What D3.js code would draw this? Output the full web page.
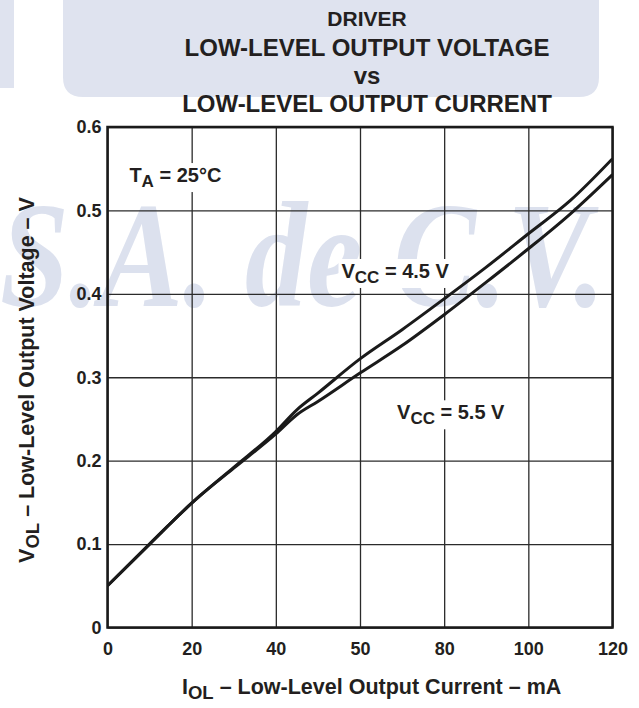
<!DOCTYPE html>
<html>
<head>
<meta charset="utf-8">
<script src="https://cdn.jsdelivr.net/npm/d3@7"></script>
<style>
  body { margin: 0; background: #fff; }
  svg { display: block; font-family: "Liberation Sans", Arial, Helvetica, sans-serif; font-weight: bold; }
</style>
</head>
<body>
<div id="chart"></div>
<script>
// I_OL (mA) sample points
const current = [0, 10, 20, 22, 30, 40, 45, 50, 60, 70, 80, 90, 100, 110, 120];
// V_OL (V) for each supply voltage
const vcc45 = [0.050, 0.100, 0.149, 0.158, 0.192, 0.235, 0.261, 0.281, 0.322, 0.357, 0.394, 0.432, 0.472, 0.512, 0.562];
const vcc55 = [0.050, 0.100, 0.149, 0.158, 0.191, 0.232, 0.255, 0.271, 0.305, 0.338, 0.375, 0.414, 0.454, 0.496, 0.543];

const xTicks = [0, 20, 40, 60, 80, 100, 120];
const xTickLabels = ["0", "20", "40", "50", "80", "100", "120"];   // "50" as printed
const yTicks = [0, 0.1, 0.2, 0.3, 0.4, 0.5, 0.6];
const yTickLabels = ["0", "0.1", "0.2", "0.3", "0.4", "0.5", "0.6"];

const titleLines = ["DRIVER", "LOW-LEVEL OUTPUT VOLTAGE", "vs", "LOW-LEVEL OUTPUT CURRENT"];

const W = 639, H = 708;
const margin = { top: 127, right: 26.5, bottom: 80.5, left: 107.5 };
const width = W - margin.left - margin.right,
      height = H - margin.top - margin.bottom;

const svg = d3.select("#chart").append("svg")
    .attr("width", W)
    .attr("height", H);

// watermark behind everything
const wm = svg.append("g").attr("fill", "#dfe3ef");
wm.append("path")
  .attr("d", "M63,0 H599 V77 Q599,97 579,97 H83 Q63,97 63,77 Z");
wm.append("rect").attr("x", 0).attr("y", 0).attr("width", 14).attr("height", 88);
wm.append("text")
  .attr("x", 0).attr("y", 306)
  .attr("font-family", "'Liberation Serif', 'DejaVu Serif', serif")
  .attr("font-style", "italic")
  .attr("font-weight", "bold")
  .attr("font-size", 150)
  .attr("textLength", 605)
  .attr("lengthAdjust", "spacingAndGlyphs")
  .attr("fill", "#dce1ee")
  .text("S.A. de C.V.");

// title
const titleSizes = [21, 24, 24, 24];
const titleY = [26, 56, 84, 112];
svg.append("g").selectAll("text")
  .data(titleLines)
  .join("text")
  .attr("x", 367)
  .attr("y", (d, i) => titleY[i])
  .attr("text-anchor", "middle")
  .attr("font-size", (d, i) => titleSizes[i])
  .attr("fill", "#231f20")
  .text(d => d);

const g = svg.append("g")
    .attr("transform", `translate(${margin.left},${margin.top})`);

const x = d3.scaleLinear().domain([0, 120]).range([0, width]);
const y = d3.scaleLinear().domain([0, 0.6]).range([height, 0]);

// grid
g.append("g")
  .attr("transform", `translate(0,${height})`)
  .call(d3.axisBottom(x).tickValues(xTicks).tickSize(-height).tickFormat(""))
  .call(a => a.select(".domain").remove())
  .selectAll("line").attr("stroke", "#2b2b2b").attr("stroke-width", 1.3);

g.append("g")
  .call(d3.axisLeft(y).tickValues(yTicks).tickSize(-width).tickFormat(""))
  .call(a => a.select(".domain").remove())
  .selectAll("line").attr("stroke", "#2b2b2b").attr("stroke-width", 1.3);

// tick labels
const xAx = g.append("g")
  .attr("transform", `translate(0,${height})`)
  .call(d3.axisBottom(x).tickValues(xTicks).tickSize(0).tickPadding(15)
        .tickFormat((d, i) => xTickLabels[i]));
xAx.select(".domain").remove();
xAx.selectAll("text")
  .attr("font-size", 18).attr("font-family", null).attr("fill", "#231f20");

const yAx = g.append("g")
  .call(d3.axisLeft(y).tickValues(yTicks).tickSize(0).tickPadding(6)
        .tickFormat((d, i) => yTickLabels[i]));
yAx.select(".domain").remove();
yAx.selectAll("text")
  .attr("font-size", 18).attr("font-family", null).attr("fill", "#231f20");

// curves
g.append("clipPath").attr("id", "plotclip")
  .append("rect").attr("width", width).attr("height", height);

const line = d3.line()
    .x(d => x(d[0]))
    .y(d => y(d[1]))
    .curve(d3.curveMonotoneX);

[vcc45, vcc55].forEach(series => {
  g.append("path")
    .datum(current.map((c, i) => [c, series[i]]))
    .attr("d", line)
    .attr("clip-path", "url(#plotclip)")
    .attr("fill", "none")
    .attr("stroke", "#1a1a1a")
    .attr("stroke-width", 3);
});

// frame
g.append("rect")
  .attr("width", width).attr("height", height)
  .attr("fill", "none")
  .attr("stroke", "#1a1a1a")
  .attr("stroke-width", 2.5);

// in-plot labels with white boxes
function label(px, py, main, sub, rest, size) {
  const grp = g.append("g");
  const bg = grp.append("rect").attr("fill", "#fff");
  const t = grp.append("text")
    .attr("x", px).attr("y", py)
    .attr("font-size", size)
    .attr("fill", "#231f20");
  t.append("tspan").text(main);
  t.append("tspan").attr("font-size", size * 0.85).attr("dy", 5).text(sub);
  t.append("tspan").attr("dy", -5).text(rest);
  const b = t.node().getBBox();
  bg.attr("x", b.x - 3).attr("y", b.y - 1)
    .attr("width", b.width + 6).attr("height", b.height + 2);
}
label(x(5.2), y(0.534), "T", "A", " = 25°C", 20);
label(x(55.6), y(0.419), "V", "CC", " = 4.5 V", 20);
label(x(68.8), y(0.2496), "V", "CC", " = 5.5 V", 20);

// axis titles
const xt = svg.append("text")
  .attr("x", 182).attr("y", 694)
  .attr("font-size", 21.5)
  .attr("fill", "#231f20");
xt.append("tspan").text("I");
xt.append("tspan").attr("font-size", 18.5).attr("dy", 5).text("OL");
xt.append("tspan").attr("dy", -5).text(" – Low-Level Output Current – mA");

const yt = svg.append("text")
  .attr("transform", "translate(34,380) rotate(-90)")
  .attr("text-anchor", "middle")
  .attr("font-size", 21.5)
  .attr("fill", "#231f20");
yt.append("tspan").text("V");
yt.append("tspan").attr("font-size", 18.5).attr("dy", 5).text("OL");
yt.append("tspan").attr("dy", -5).text(" – Low-Level Output Voltage – V");
</script>
</body>
</html>
